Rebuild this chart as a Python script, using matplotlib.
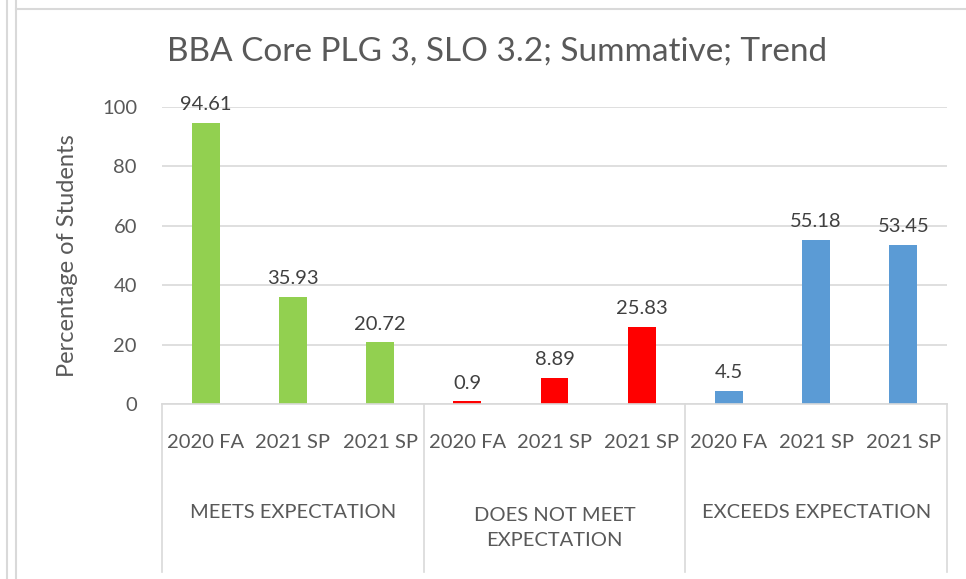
import matplotlib
matplotlib.use("Agg")
import matplotlib.pyplot as plt
from matplotlib.lines import Line2D
import matplotlib.transforms as mtransforms

plt.rcParams['font.family'] = ['Lato', 'DejaVu Sans']

title = "BBA Core PLG 3, SLO 3.2; Summative; Trend"
groups = ["MEETS EXPECTATION", "DOES NOT MEET\nEXPECTATION", "EXCEEDS EXPECTATION"]
terms = ["2020 FA", "2021 SP", "2021 SP"]
meets = [94.61, 35.93, 20.72]
not_meet = [0.9, 8.89, 25.83]
exceeds = [4.5, 55.18, 53.45]
colors = ["#92D050", "#FF0000", "#5B9BD5"]
ylabel = "Percentage of Students"
yticks = [0, 20, 40, 60, 80, 100]

W, H = 966, 579
fig = plt.figure(figsize=(W / 100, H / 100), dpi=100)
ax = fig.add_axes([162 / W, 1 - 404 / H, (947 - 162) / W, (404 - 107) / H])

series = [meets, not_meet, exceeds]
text_col = "#595959"
fs = 14.5
x = 0
for g, vals in enumerate(series):
    for v in vals:
        ax.bar(x, v, width=0.32, color=colors[g], zorder=3)
        lab = f"{v:g}"
        ax.text(x, v + 3.3, lab, ha="center", va="bottom", fontsize=fs, color="#404040")
        x += 1

ax.set_xlim(-0.5, 8.5)
ax.set_ylim(0, 100)
ax.set_yticks(yticks)
ax.set_yticklabels([str(t) for t in yticks], fontsize=fs, color=text_col)
ax.tick_params(axis="y", length=0, pad=18)
ax.set_xticks([])
ax.grid(axis="y", color="#D9D9D9", linewidth=1.2, zorder=0)
for s in ["left", "right", "top"]:
    ax.spines[s].set_visible(False)
ax.spines["bottom"].set_color("#D9D9D9")
ax.spines["bottom"].set_linewidth(1.2)
ax.spines["bottom"].set_zorder(4)

trans = mtransforms.blended_transform_factory(ax.transData, fig.transFigure)
i = 0
for g in range(3):
    for t in terms:
        ax.text(i, 1 - 443 / H, t, transform=trans, ha="center", va="center",
                fontsize=fs, color=text_col)
        i += 1
    yc = 528 if "\n" in groups[g] else 513
    ax.text(3 * g + 1, 1 - yc / H, groups[g], transform=trans, ha="center",
            va="center", fontsize=fs, color=text_col, linespacing=1.55)

for xs in [-0.5, 2.5, 5.5, 8.5]:
    ax.add_line(Line2D([xs, xs], [1 - 404 / H, 1 - 572 / H], transform=trans,
                       color="#D9D9D9", linewidth=1.2, clip_on=False))

ax.set_ylabel(ylabel, fontsize=17, color=text_col)
ax.yaxis.set_label_coords(-(162 - 68) / (947 - 162), 0.5)
ax.yaxis.label.set_va("center")

fig.text(497 / W, 1 - 52 / H, title, ha="center", va="center", fontsize=24, color=text_col)

for xx in [7, 16]:
    fig.add_artist(Line2D([xx / W, xx / W], [0, 1], transform=fig.transFigure,
                          color="#D9D9D9", linewidth=1.5))
fig.add_artist(Line2D([16 / W, 1], [1 - 9 / H, 1 - 9 / H], transform=fig.transFigure,
                      color="#D9D9D9", linewidth=1.5))

fig.savefig("out.png", dpi=100)
